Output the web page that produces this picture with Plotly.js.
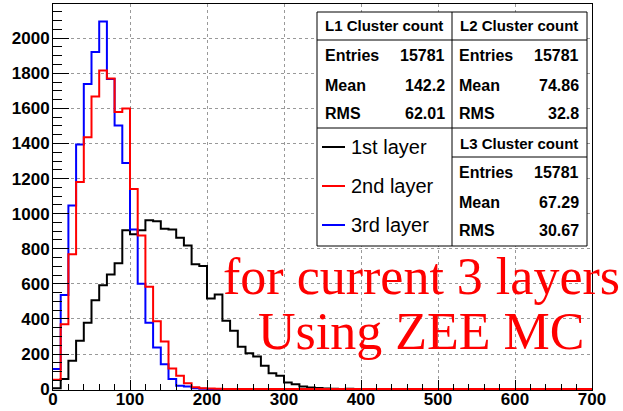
<!DOCTYPE html>
<html>
<head>
<meta charset="utf-8">
<script src="https://cdn.plot.ly/plotly-3.0.1.min.js"></script>
<style>html,body{margin:0;padding:0;background:#fff;}#chart{width:623px;height:411px;}</style>
</head>
<body>
<div id="chart"></div>
<script>
// Histogram data: bin width 10, bins start at 0
const binWidth = 10;
const xMax = 700;
const layer1Counts = [5, 57, 161, 275, 379, 506, 592, 654, 717, 906, 882, 906, 963, 957, 914, 910, 863, 819, 711, 702, 516, 540, 389, 332, 241, 205, 186, 133, 91, 76, 38, 28, 15, 9, 7, 3, 2, 1, 2, 1, 0];
const layer2Counts = [53, 370, 768, 1181, 1435, 1668, 1816, 1771, 1579, 1600, 1141, 876, 584, 387, 271, 117, 76, 34, 11, 5, 3, 2, 1, 0];
const layer3Counts = [114, 537, 1047, 1394, 1739, 1921, 2095, 1767, 1502, 1289, 910, 601, 379, 237, 142, 57, 19, 15, 5, 2, 1, 0];

const seriesNames = ['1st layer', '2nd layer', '3rd layer'];
const seriesColors = ['#000000', '#ff0000', '#0000ff'];

const statTitles = ['L1 Cluster count', 'L2 Cluster count', 'L3 Cluster count'];
const statLabels = ['Entries', 'Mean', 'RMS'];
const statValues = [['15781', '142.2', '62.01'], ['15781', '74.86', '32.8'], ['15781', '67.29', '30.67']];

const noteLines = ['for current 3 layers', 'Using ZEE MC'];

function stepTrace(counts, color, name) {
  const xs = [], ys = [];
  for (let i = 0; i < counts.length; i++) { xs.push(i * binWidth); ys.push(counts[i]); }
  xs.push(xMax); ys.push(0);
  return {x: xs, y: ys, type: 'scatter', mode: 'lines', name: name,
          line: {shape: 'hv', color: color, width: 2}, hoverinfo: 'skip', showlegend: false};
}

const traces = [
  stepTrace(layer1Counts, seriesColors[0], seriesNames[0]),
  stepTrace(layer3Counts, seriesColors[2], seriesNames[2]),
  stepTrace(layer2Counts, seriesColors[1], seriesNames[1])
];

// pixel -> paper helpers (plot area: x 53..592, y 4..390)
const L = 53, R = 592, T = 4, B = 390;
function px(x) { return (x - L) / (R - L); }
function py(y) { return (B - y) / (B - T); }

const shapes = [];
const ann = [];
function line(x0, y0, x1, y1, color, width) {
  shapes.push({type: 'line', xref: 'paper', yref: 'paper', x0: px(x0), y0: py(y0), x1: px(x1), y1: py(y1),
               line: {color: color || '#000', width: width || 1}, layer: 'above'});
}
function text(t, x, y, xanchor, size, weight, color, family) {
  ann.push({text: t, xref: 'paper', yref: 'paper', x: px(x), y: py(y), xanchor: xanchor, yanchor: 'middle',
            showarrow: false, borderpad: 0,
            font: {family: family || 'Liberation Sans, Arial, sans-serif', size: size, weight: weight || 'normal', color: color || '#000'}});
}

// stats + legend panel
shapes.push({type: 'rect', xref: 'paper', yref: 'paper', x0: px(317), y0: py(12), x1: px(587), y1: py(246),
             fillcolor: '#fff', line: {color: '#000', width: 1}, layer: 'above'});
line(452, 12, 452, 246);
line(317, 40, 587, 40);
line(317, 128, 587, 128);
line(452, 157, 587, 157);

const colLeft = [324, 458, 458];
const colRight = [446, 580, 580];
const colCenter = [384, 519, 519];
const titleY = [26, 26, 144];
const rowY = [[55.3, 85.3, 113.7], [55.3, 85.3, 113.7], [172.8, 202.8, 230.8]];
for (let k = 0; k < 3; k++) {
  text(statTitles[k], colCenter[k], titleY[k], 'center', 15, 'bold');
  for (let r = 0; r < 3; r++) {
    text(statLabels[r], colLeft[k], rowY[k][r], 'left', 16, 'bold');
    text(statValues[k][r], colRight[k], rowY[k][r], 'right', 16, 'bold');
  }
}
const legY = [147, 186, 225];
for (let i = 0; i < 3; i++) {
  line(322, legY[i], 345, legY[i], seriesColors[i], 2);
  text(seriesNames[i], 350, legY[i], 'left', 20, 'normal');
}

// red note
text(noteLines[0], 421, 276, 'center', 52, 'normal', '#ff0000', 'Liberation Serif, Times New Roman, serif');
text(noteLines[1], 421, 331, 'center', 52, 'normal', '#ff0000', 'Liberation Serif, Times New Roman, serif');

const tickFont = {family: 'Liberation Sans, Arial, sans-serif', size: 17, weight: 'bold', color: '#000'};
const layout = {
  width: 623, height: 411,
  margin: {l: L, r: 623 - R, t: T, b: 411 - B, pad: 0},
  paper_bgcolor: '#fff', plot_bgcolor: '#fff',
  showlegend: false,
  xaxis: {range: [0, xMax], tick0: 0, dtick: 100, ticks: 'inside', ticklen: 10, tickcolor: '#000', tickwidth: 1,
          showline: true, mirror: true, linecolor: '#000', linewidth: 1,
          showgrid: true, gridcolor: '#999', griddash: 'dot', gridwidth: 1, zeroline: false,
          tickfont: tickFont, fixedrange: true, ticklabelstandoff: -6,
          minor: {dtick: 20, ticks: 'inside', ticklen: 6, tickcolor: '#000', showgrid: false}},
  yaxis: {range: [-5, 2195], tick0: 0, dtick: 200, ticks: 'inside', ticklen: 16, tickcolor: '#000', tickwidth: 1,
          showline: true, mirror: true, linecolor: '#000', linewidth: 1,
          showgrid: true, gridcolor: '#999', griddash: 'dot', gridwidth: 1, zeroline: false,
          tickfont: tickFont, fixedrange: true, ticklabelstandoff: -1,
          minor: {dtick: 50, ticks: 'inside', ticklen: 9, tickcolor: '#000', showgrid: false}},
  shapes: shapes,
  annotations: ann
};

Plotly.newPlot('chart', traces, layout, {staticPlot: true, displayModeBar: false});
</script>
</body>
</html>
